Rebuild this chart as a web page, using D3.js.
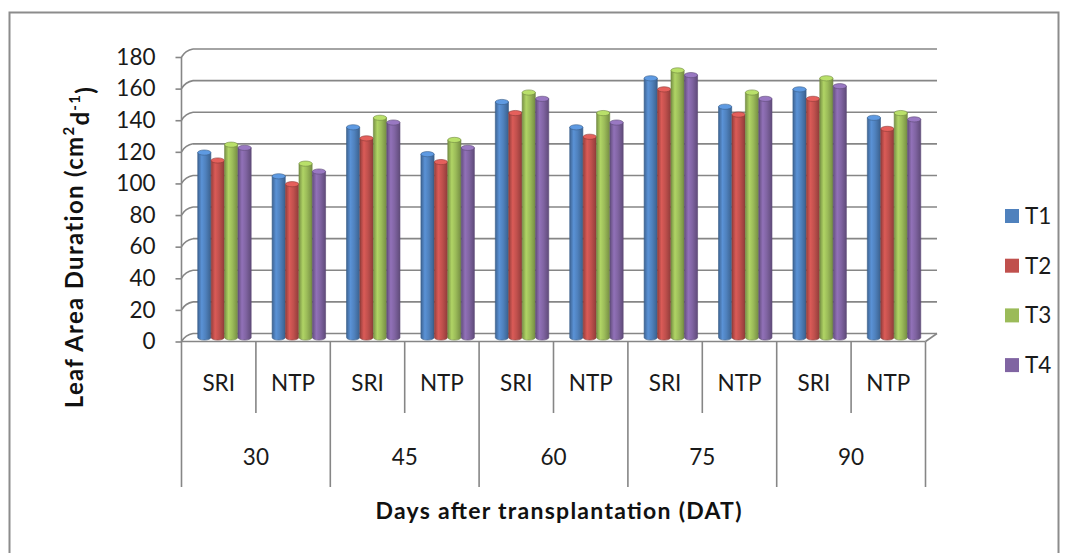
<!DOCTYPE html>
<html><head><meta charset="utf-8">
<script src="https://cdn.jsdelivr.net/npm/d3@7"></script>
<style>body{margin:0;background:#fff}svg{display:block}</style>
</head><body>
<svg id="chart" width="1066" height="553"></svg>
<script>
// Leaf area duration by treatment, planting method and days after transplanting
const days = ["30", "45", "60", "75", "90"];
const methods = ["SRI", "NTP"];
const seriesNames = ["T1", "T2", "T3", "T4"];
const t1 = [117, 102, 133, 116, 149, 133, 164, 146, 157, 139];
const t2 = [112, 97, 126, 111, 142, 127, 157, 141, 151, 132];
const t3 = [122, 110, 139, 125, 155, 142, 169, 155, 164, 142];
const t4 = [120, 105, 136, 120, 151, 136, 166, 151, 159, 138];
const yTicks = [0, 20, 40, 60, 80, 100, 120, 140, 160, 180];
const colors = ["#4F81BD", "#C0504D", "#9BBB59", "#8064A2"];

const seriesValues = [t1, t2, t3, t4];
const categories = [];
days.forEach(d => methods.forEach(m => categories.push(d + "|" + m)));

const svg = d3.select("#chart");
const font = "Lato, 'Open Sans', sans-serif";
const gridColor = "#868686";
const labelSize = 22.5;

// plot frame (front plane) and depth offset of the back wall
const left = 181.5, right = 925.5, floorY = 341.5, topY = 57;
const dx = 11.5, dy = -8;

const x0 = d3.scaleBand().domain(categories).range([left, right]);
const x1 = d3.scaleBand().domain(seriesNames).range([0, x0.bandwidth()]).paddingOuter(0.78).paddingInner(0.02);
const y = d3.scaleLinear().domain([0, 180]).range([floorY, topY]);

// outer chart border
svg.append("rect").attr("x", 9.5).attr("y", 12.5).attr("width", 1049).attr("height", 560)
  .attr("fill", "none").attr("stroke", "#8c8c8c").attr("stroke-width", 2);

// back wall gridlines and side-wall connectors
const grid = svg.append("g").attr("stroke", gridColor).attr("stroke-width", 1.6).attr("fill", "none");
yTicks.forEach(v => {
  grid.append("line").attr("x1", left + dx).attr("x2", right + dx)
    .attr("y1", y(v) + dy).attr("y2", y(v) + dy);
  grid.append("path").attr("d", `M${left},${y(v)} Q${left + dx * 0.35},${y(v) + dy * 0.85} ${left + dx},${y(v) + dy}`);
});
// floor outline
grid.append("line").attr("x1", left).attr("x2", right).attr("y1", floorY).attr("y2", floorY);
grid.append("line").attr("x1", right).attr("x2", right + dx).attr("y1", floorY).attr("y2", floorY + dy);

// y axis
const yAxis = d3.axisLeft(y).tickValues(yTicks).tickSize(6).tickPadding(20);
const yg = svg.append("g").attr("transform", `translate(${left},0)`).call(yAxis);
yg.select(".domain").remove();
yg.selectAll(".tick line").attr("stroke", gridColor).attr("stroke-width", 1.6);
yg.selectAll(".tick text").attr("font-family", font).attr("font-size", labelSize).attr("fill", "#1a1a1a");
svg.append("line").attr("x1", left).attr("x2", left).attr("y1", topY).attr("y2", 487)
  .attr("stroke", gridColor).attr("stroke-width", 1.6);

// category axis: dividers and two label rows
const bw = x0.bandwidth();
categories.forEach((c, i) => {
  const xs = x0(c);
  if (i > 0) {
    svg.append("line").attr("x1", xs).attr("x2", xs).attr("y1", floorY)
      .attr("y2", i % 2 === 0 ? 487 : 413).attr("stroke", gridColor).attr("stroke-width", 1.6);
  }
  svg.append("text").attr("x", xs + bw / 2).attr("y", 383).attr("dy", "0.35em")
    .attr("text-anchor", "middle").attr("font-family", font).attr("font-size", labelSize)
    .attr("fill", "#1a1a1a").text(c.split("|")[1]);
});
svg.append("line").attr("x1", right).attr("x2", right).attr("y1", floorY).attr("y2", 487)
  .attr("stroke", gridColor).attr("stroke-width", 1.6);
days.forEach(d => {
  const xs = x0(d + "|" + methods[0]);
  svg.append("text").attr("x", xs + bw).attr("y", 457).attr("dy", "0.35em")
    .attr("text-anchor", "middle").attr("font-family", font).attr("font-size", labelSize)
    .attr("fill", "#1a1a1a").text(d);
});

// axis titles
svg.append("text").attr("x", 558.5).attr("y", 511).attr("dy", "0.35em").attr("text-anchor", "middle")
  .attr("font-family", font).attr("font-size", 23).attr("font-weight", "bold").attr("fill", "#111")
  .attr("textLength", 366).attr("lengthAdjust", "spacing")
  .text("Days after transplantation  (DAT)");
const yt = svg.append("text").attr("transform", "translate(75,247) rotate(-90)").attr("dy", "0.35em")
  .attr("text-anchor", "middle").attr("font-family", font).attr("font-size", 24)
  .attr("letter-spacing", 1.3).attr("font-weight", "bold").attr("fill", "#111");
yt.append("tspan").text("Leaf Area Duration (cm");
yt.append("tspan").attr("font-size", 15).attr("dy", "-0.6em").text("2");
yt.append("tspan").attr("dy", "0.6em").text("d");
yt.append("tspan").attr("font-size", 15).attr("dy", "-0.6em").text("-1");
yt.append("tspan").attr("dy", "0.6em").text(")");

// cylinder shading gradients
const defs = svg.append("defs");
colors.forEach((c, i) => {
  const base = d3.color(c);
  const g = defs.append("linearGradient").attr("id", "cyl" + i).attr("x1", 0).attr("x2", 1).attr("y1", 0).attr("y2", 0);
  g.append("stop").attr("offset", "0%").attr("stop-color", base.darker(0.7));
  g.append("stop").attr("offset", "30%").attr("stop-color", base.brighter(0.35));
  g.append("stop").attr("offset", "60%").attr("stop-color", base);
  g.append("stop").attr("offset", "100%").attr("stop-color", base.darker(0.8));
});

// bars as cylinders standing mid-depth on the floor
const mdx = dx / 2, mdy = dy / 2;
const ry = 2.6;
const bars = svg.append("g");
categories.forEach((c, ci) => {
  seriesNames.forEach((s, si) => {
    const v = seriesValues[si][ci];
    const w = x1.bandwidth();
    const bx = x0(c) + x1(s) + mdx;
    const yb = y(0) + mdy, ytp = y(v) + mdy;
    const base = d3.color(colors[si]);
    bars.append("path")
      .attr("d", `M${bx},${ytp} L${bx},${yb} A${w / 2},${ry} 0 0 0 ${bx + w},${yb} L${bx + w},${ytp} Z`)
      .attr("fill", `url(#cyl${si})`).attr("stroke", base.darker(0.9)).attr("stroke-width", 0.6);
    bars.append("ellipse").attr("cx", bx + w / 2).attr("cy", ytp).attr("rx", w / 2).attr("ry", ry)
      .attr("fill", base.brighter(0.5)).attr("stroke", base.darker(0.9)).attr("stroke-width", 0.6);
  });
});

// legend
const legend = svg.append("g");
seriesNames.forEach((s, i) => {
  const ly = 216 + i * 49.7;
  legend.append("rect").attr("x", 1005).attr("y", ly - 7).attr("width", 14).attr("height", 14)
    .attr("fill", colors[i]);
  legend.append("text").attr("x", 1025).attr("y", ly).attr("dy", "0.35em").attr("font-family", font)
    .attr("font-size", labelSize).attr("fill", "#1a1a1a").text(s);
});
</script>
</body></html>
